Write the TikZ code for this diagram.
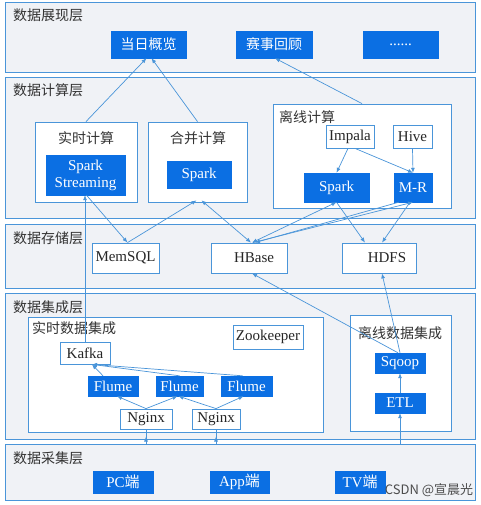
\documentclass[tikz,border=0pt]{standalone}
\usepackage{fontspec}
\setmainfont{Liberation Serif}
\newfontfamily\cjk{Noto Sans CJK SC}
\usetikzlibrary{arrows.meta,calc}
\definecolor{bfill}{HTML}{0B6FE3}
\definecolor{lblue}{HTML}{4A95D9}
\definecolor{layerbg}{HTML}{F0F2F6}
\definecolor{ttxt}{HTML}{333333}
\begin{document}
\begin{tikzpicture}[x=1pt,y=-1pt,
  layer/.style={draw=lblue, line width=0.9pt, fill=layerbg, inner sep=0pt},
  group/.style={draw=lblue, line width=0.8pt, fill=white, inner sep=0pt},
  wbox/.style={draw=lblue, line width=0.8pt, fill=white, inner sep=0pt, text=black!85, font=\fontsize{15}{17}\selectfont},
  bbox/.style={fill=bfill, draw=bfill, inner sep=0pt, text=white, font=\fontsize{15}{17}\selectfont, align=center},
  cbox/.style={bbox, font=\cjk\fontsize{14}{16}\selectfont},
  ltitle/.style={anchor=west, inner sep=0pt, text=ttxt, font=\cjk\fontsize{14}{16}\selectfont},
  gtitle/.style={inner sep=0pt, text=ttxt, font=\cjk\fontsize{14}{16}\selectfont},
  plain/.style={draw=lblue, line width=0.7pt},
  conn/.style={plain, -{Latex[length=5pt,width=4pt]}},
  conntwo/.style={plain, {Latex[length=5pt,width=4pt]}-{Latex[length=5pt,width=4pt]}}]
\useasboundingbox (0,0) rectangle (480,505);
\fill[white] (0,0) rectangle (480,505);

% layers
\node[layer, minimum width=470pt, minimum height=70pt] (L1) at (240,37) {};
\node[layer, minimum width=470pt, minimum height=141pt] (L2) at (240,147.5) {};
\node[layer, minimum width=470pt, minimum height=64pt] (L3) at (240,256) {};
\node[layer, minimum width=470pt, minimum height=146pt] (L4) at (240,366) {};
\node[layer, minimum width=470pt, minimum height=56pt] (L5) at (240,472) {};

\node[ltitle] (t1) at (13,15) {数据展现层};
\node[ltitle] (t2) at (13,90) {数据计算层};
\node[ltitle] (t3) at (13,238) {数据存储层};
\node[ltitle] (t4) at (13,307) {数据集成层};
\node[ltitle] (t5) at (13,458) {数据采集层};

% groups
\node[group, minimum width=102pt, minimum height=80pt] (rt) at (86,162) {};
\node[group, minimum width=99pt, minimum height=80pt] (hb) at (197.5,162) {};
\node[group, minimum width=178pt, minimum height=104pt] (lx) at (362,156) {};
\node[group, minimum width=295pt, minimum height=115pt] (rtint) at (175.5,374.5) {};
\node[group, minimum width=101pt, minimum height=116pt] (lxint) at (400.5,373) {};

\node[gtitle] (rtt) at (86,138) {实时计算};
\node[gtitle] (hbt) at (198,138) {合并计算};
\node[gtitle, anchor=west] (lxt) at (279,117) {离线计算};
\node[gtitle, anchor=west] (rtintt) at (32,328) {实时数据集成};
\node[gtitle] (lxintt) at (400,333) {离线数据集成};

% display
\node[cbox, minimum width=75pt, minimum height=27pt] (d1) at (148.5,44.5) {当日概览};
\node[cbox, minimum width=76pt, minimum height=27pt] (d2) at (274,44.5) {赛事回顾};
\node[bbox, minimum width=75pt, minimum height=27pt] (d3) at (400.5,44.5) {......};

% compute
\node[bbox, minimum width=79pt, minimum height=40pt] (ss) at (85.5,175) {Spark\\Streaming};
\node[bbox, minimum width=64pt, minimum height=27pt] (sp1) at (199,174.5) {Spark};
\node[wbox, minimum width=48pt, minimum height=23pt] (impala) at (350,136.5) {Impala};
\node[wbox, minimum width=39pt, minimum height=23pt] (hive) at (412.5,136.5) {Hive};
\node[bbox, minimum width=65pt, minimum height=29pt] (sp2) at (336.5,187.5) {Spark};
\node[bbox, minimum width=38pt, minimum height=29pt] (mr) at (413,187.5) {M-R};

% storage
\node[wbox, minimum width=67pt, minimum height=30pt] (memsql) at (125.5,258) {MemSQL};
\node[wbox, minimum width=76pt, minimum height=30pt] (hbase) at (249,258) {\hspace*{10pt}HBase};
\node[wbox, minimum width=74pt, minimum height=30pt] (hdfs) at (379,258) {\hspace*{16pt}HDFS};

% integration
\node[wbox, minimum width=70pt, minimum height=24pt] (zk) at (268,337) {Zookeeper};
\node[wbox, minimum width=50pt, minimum height=22pt] (kafka) at (85,353) {Kafka};
\node[bbox, minimum width=50pt, minimum height=20pt] (f1) at (113,386) {Flume};
\node[bbox, minimum width=47pt, minimum height=20pt] (f2) at (179.5,386) {Flume};
\node[bbox, minimum width=51pt, minimum height=20pt] (f3) at (246.5,386) {Flume};
\node[wbox, minimum width=52pt, minimum height=20pt] (n1) at (146,419) {Nginx};
\node[wbox, minimum width=48pt, minimum height=20pt] (n2) at (216,419) {Nginx};
\node[bbox, minimum width=50pt, minimum height=20pt] (sqoop) at (400,363) {Sqoop};
\node[bbox, minimum width=50pt, minimum height=20pt] (etl) at (400,403) {ETL};

% collection
\node[bbox, minimum width=60pt, minimum height=22pt] (pc) at (123,482) {PC{\cjk 端}};
\node[bbox, minimum width=59pt, minimum height=22pt] (app) at (239.5,482) {App{\cjk 端}};
\node[bbox, minimum width=50pt, minimum height=22pt] (tv) at (360,482) {TV{\cjk 端}};

% connectors: compute -> display
\draw[conn] (rt.north) -- ($(d1.south)+(-2,0)$);
\draw[conn] (hb.north) -- ($(d1.south)+(3,0)$);
\draw[conn] (lx.north) -- ($(d2.south)+(1,0)$);
% inside offline compute
\draw[conn] ($(impala.south)+(-2,0)$) -- (sp2.north);
\draw[conn] ($(impala.south)+(5,0)$) -- (mr.north);
\draw[conn] (hive.south) -- (mr.north);
% storage <-> compute
\draw[conn] (kafka.north) -- (kafka.north |- ss.south);
\draw[conn] ($(ss.south)+(1,0)$) -- ($(memsql.north)+(2,0)$);
\draw[conn] ($(memsql.north)+(2,0)$) -- ($(hb.south)+(-1,-2)$);
\draw[conntwo] ($(hb.south)+(4,-2)$) -- ($(hbase.north)+(2,0)$);
\draw[conntwo] (sp2.south) -- ($(hbase.north)+(3,0)$);
\draw[conn] ($(mr.south west)+(5,0)$) -- ($(hbase.north)+(6,0)$);
\draw[conn] ($(hbase.north)+(4,0)$) -- (mr.south);
\draw[conn] (sp2.south) -- ($(hdfs.north)+(-14,0)$);
\draw[conn] ($(mr.south)+(-3,0)$) -- ($(hdfs.north)+(3,0)$);
% integration
\coordinate (kt) at ($(kafka.south)+(7,0)$);
\draw[conn] ($(f1.north)+(-10,0)$) -- (kt);
\draw[conn] (f2.north) -- (kt);
\draw[conn] ($(f3.north)+(-4,0)$) -- (kt);
\draw[conn] (n1.north) -- ($(f1.south)+(4,0)$);
\draw[conn] (n1.north) -- ($(f2.south)+(-2,0)$);
\draw[conn] (n2.north) -- ($(f2.south)+(-1,0)$);
\draw[conn] (n2.north) -- ($(f3.south)+(-3,0)$);
\draw[conn] (etl.north) -- (sqoop.south);
\draw[conn] ($(sqoop.north)+(-2,0)$) -- ($(hbase.south)+(3,0)$);
\draw[conn] (sqoop.north) -- ($(hdfs.south)+(3,0)$);
% collection -> integration
\coordinate (c1) at (n1.south |- L5.north);
\coordinate (c2) at (n2.south |- L5.north);
\coordinate (c3) at (etl.south |- L5.north);
\draw[plain] (c1) -- (n1.south);
\draw[conn] (c1) -- ($(c1)+(0,-7)$);
\draw[plain] (c2) -- (n2.south);
\draw[conn] (c2) -- ($(c2)+(0,-7)$);
\draw[conn] (c3) -- (etl.south);

% watermark
\node[inner sep=1pt, text=black!70, font=\cjk\fontsize{13}{15}\selectfont] (wm) at (429,490) {CSDN @宣晨光};
\end{tikzpicture}
\end{document}
